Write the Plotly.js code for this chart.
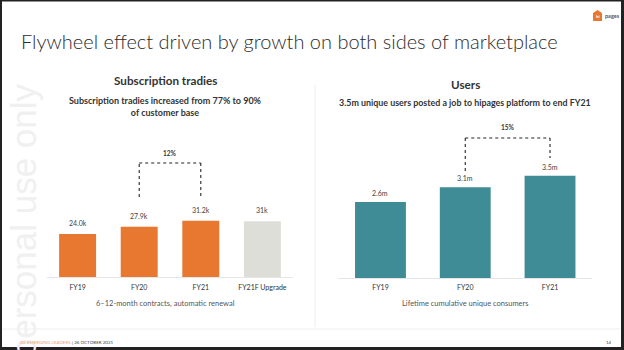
<!DOCTYPE html>
<html>
<head>
<meta charset="utf-8">
<script src="https://cdn.plot.ly/plotly-3.0.1.min.js"></script>
<style>html,body{margin:0;padding:0;background:#fff;}#chart{width:624px;height:350px;}</style>
</head>
<body>
<div id="chart"></div>
<script>
// ---- data ----
const tradiesCategories = ["FY19", "FY20", "FY21", "FY21F Upgrade"];
const tradiesValues = [24.0, 27.9, 31.2, 31];
const tradiesLabels = ["24.0k", "27.9k", "31.2k", "31k"];
const tradiesColors = ["#E8772F", "#E8772F", "#E8772F", "#DEDED8"];

const usersCategories = ["FY19", "FY20", "FY21"];
const usersValues = [2.6, 3.1, 3.5];
const usersLabels = ["2.6m", "3.1m", "3.5m"];
const usersColor = "#3F8B96";

const tradiesGrowth = "12%";
const usersGrowth = "15%";

// ---- helpers ----
const W = 624, H = 350;
const px = x => x / W;
const py = y => 1 - y / H;
const FONT = "Lato, 'Open Sans', sans-serif";
const dark = "#333333";

const traces = [
  {
    type: "bar", x: tradiesCategories, y: tradiesValues,
    marker: {color: tradiesColors}, xaxis: "x", yaxis: "y",
    hoverinfo: "skip"
  },
  {
    type: "bar", x: usersCategories, y: usersValues,
    marker: {color: usersColor}, xaxis: "x2", yaxis: "y2",
    hoverinfo: "skip"
  }
];

const annotations = [];
tradiesCategories.forEach((c, i) => annotations.push({
  x: c, y: tradiesValues[i], xref: "x", yref: "y", text: tradiesLabels[i],
  showarrow: false, xanchor: "center", yanchor: "bottom", yshift: 5,
  font: {family: FONT, size: 7, color: "#444"}
}));
usersCategories.forEach((c, i) => annotations.push({
  x: c, y: usersValues[i], xref: "x2", yref: "y2", text: usersLabels[i],
  showarrow: false, xanchor: "center", yanchor: "bottom", yshift: 3,
  font: {family: FONT, size: 7, color: "#444"}
}));

function paperText(x, y, text, size, color, extra) {
  return Object.assign({x: px(x), y: py(y), xref: "paper", yref: "paper", xanchor: "center",
    yanchor: "middle", text: text, showarrow: false,
    font: {family: FONT, size: size, color: color}}, extra || {});
}

// headings & captions
annotations.push(
  paperText(19, 41, "Flywheel effect driven by growth on both sides of marketplace", 20, "#2b2b2b",
    {xanchor: "left", font: {family: FONT, size: 20, color: "#2b2b2b", weight: 300}}),
  paperText(165, 80, "<b>Subscription tradies</b>", 11.7, dark),
  paperText(165, 106, "<b>Subscription tradies increased from 77% to 90%<br>of customer base</b>", 9, dark),
  paperText(465, 84, "<b>Users</b>", 11.7, dark),
  paperText(465, 103, "<b>3.5m unique users posted a job to hipages platform to end FY21</b>", 8.9, dark),
  paperText(165, 303, "6–12-month contracts, automatic renewal", 7.5, "#555"),
  paperText(465, 303, "Lifetime cumulative unique consumers", 7.5, "#555"),
  // growth labels
  {x: 1.5, y: py(154), xref: "x", yref: "paper", xanchor: "center", yanchor: "middle",
   text: "<b>" + tradiesGrowth + "</b>", showarrow: false, font: {family: FONT, size: 6.5, color: dark}},
  {x: 1.5, y: py(128), xref: "x2", yref: "paper", xanchor: "center", yanchor: "middle",
   text: "<b>" + usersGrowth + "</b>", showarrow: false, font: {family: FONT, size: 6.5, color: dark}},
  // arrowheads
  {x: 2, y: py(201), xref: "x", yref: "paper", text: "", showarrow: true,
   ax: 0, ay: -3, arrowhead: 2, arrowsize: 1.3, arrowwidth: 1.2, arrowcolor: "#222", standoff: 0},
  {x: 2, y: py(161), xref: "x2", yref: "paper", text: "", showarrow: true,
   ax: 0, ay: -3, arrowhead: 2, arrowsize: 1.3, arrowwidth: 1.2, arrowcolor: "#222", standoff: 0},
  // watermark
  paperText(23, 82, "For personal use only", 35, "#f0f0f0",
    {yanchor: "top", textangle: -90,
     font: {family: "Liberation Sans, Arial, sans-serif", size: 35, color: "#f0f0f0"}}),
  // footer
  paperText(18, 342, "<span style='color:#E9A770'>GS EMERGING LEADERS</span> | 26 OCTOBER 2021", 4.5, "#444",
    {xanchor: "left"}),
  paperText(614, 342, "14", 4.5, "#444", {xanchor: "right"}),
  // logo text
  paperText(603, 16, "<b>pages</b>", 5.5, "#555", {xanchor: "left"}),
  paperText(597.5, 16.5, "<b>hi</b>", 4.5, "#fff")
);

const dot = {color: "#222", width: 1.1, dash: "dot"};
const shapes = [
  // brackets left
  {type: "line", xref: "x", yref: "paper", x0: 1, x1: 1, y0: py(197), y1: py(163), line: dot},
  {type: "line", xref: "x", yref: "paper", x0: 1, x1: 2, y0: py(163), y1: py(163), line: dot},
  {type: "line", xref: "x", yref: "paper", x0: 2, x1: 2, y0: py(163), y1: py(198), line: dot},
  // brackets right
  {type: "line", xref: "x2", yref: "paper", x0: 1, x1: 1, y0: py(171), y1: py(138), line: dot},
  {type: "line", xref: "x2", yref: "paper", x0: 1, x1: 2, y0: py(138), y1: py(138), line: dot},
  {type: "line", xref: "x2", yref: "paper", x0: 2, x1: 2, y0: py(138), y1: py(158), line: dot},
  // divider & footer line
  {type: "line", xref: "paper", yref: "paper", x0: px(315), x1: px(315), y0: py(85), y1: py(327),
   line: {color: "#eeeeee", width: 1}},
  {type: "line", xref: "paper", yref: "paper", x0: px(2), x1: px(620), y0: py(329), y1: py(329),
   line: {color: "#eeeeee", width: 1}},
  // logo box
  {type: "path", xref: "paper", yref: "paper",
   path: `M ${px(593)} ${py(21)} L ${px(602)} ${py(21)} L ${px(602)} ${py(13)} L ${px(597.5)} ${py(10)} L ${px(593)} ${py(13)} Z`,
   fillcolor: "#E8772F", line: {width: 0}},
  // frame
  {type: "rect", xref: "paper", yref: "paper", x0: 0, x1: px(2), y0: 0, y1: 1, fillcolor: "#222", line: {width: 0}},
  {type: "rect", xref: "paper", yref: "paper", x0: px(621), x1: 1, y0: 0, y1: 1, fillcolor: "#222", line: {width: 0}},
  {type: "rect", xref: "paper", yref: "paper", x0: 0, x1: 1, y0: py(1.5), y1: 1, fillcolor: "#222", line: {width: 0}},
  {type: "rect", xref: "paper", yref: "paper", x0: 0, x1: 1, y0: 0, y1: py(347), fillcolor: "#222", line: {width: 0}}
];

const layout = {
  width: W, height: H,
  margin: {l: 0, r: 0, t: 0, b: 0},
  paper_bgcolor: "#fff", plot_bgcolor: "rgba(0,0,0,0)",
  showlegend: false, bargap: 0.4,
  font: {family: FONT, color: dark},
  xaxis: {domain: [px(46.8), px(293.2)], anchor: "y", showline: true, linecolor: "#e6e6e6", linewidth: 1,
          ticks: "", showgrid: false, zeroline: false, fixedrange: true, ticklabelstandoff: 3,
          tickfont: {family: FONT, size: 7, color: "#333"}},
  yaxis: {domain: [py(277.3), py(140)], range: [0, 75.9], anchor: "x", visible: false, fixedrange: true},
  xaxis2: {domain: [px(338.1), px(592.4)], anchor: "y2", showline: true, linecolor: "#e6e6e6", linewidth: 1,
           ticks: "", showgrid: false, zeroline: false, fixedrange: true, ticklabelstandoff: 3,
           tickfont: {family: FONT, size: 7, color: "#333"}},
  yaxis2: {domain: [py(278), py(120)], range: [0, 5.404], anchor: "x2", visible: false, fixedrange: true},
  annotations: annotations,
  shapes: shapes
};

Plotly.newPlot("chart", traces, layout, {displayModeBar: false, staticPlot: true});
</script>
</body>
</html>
